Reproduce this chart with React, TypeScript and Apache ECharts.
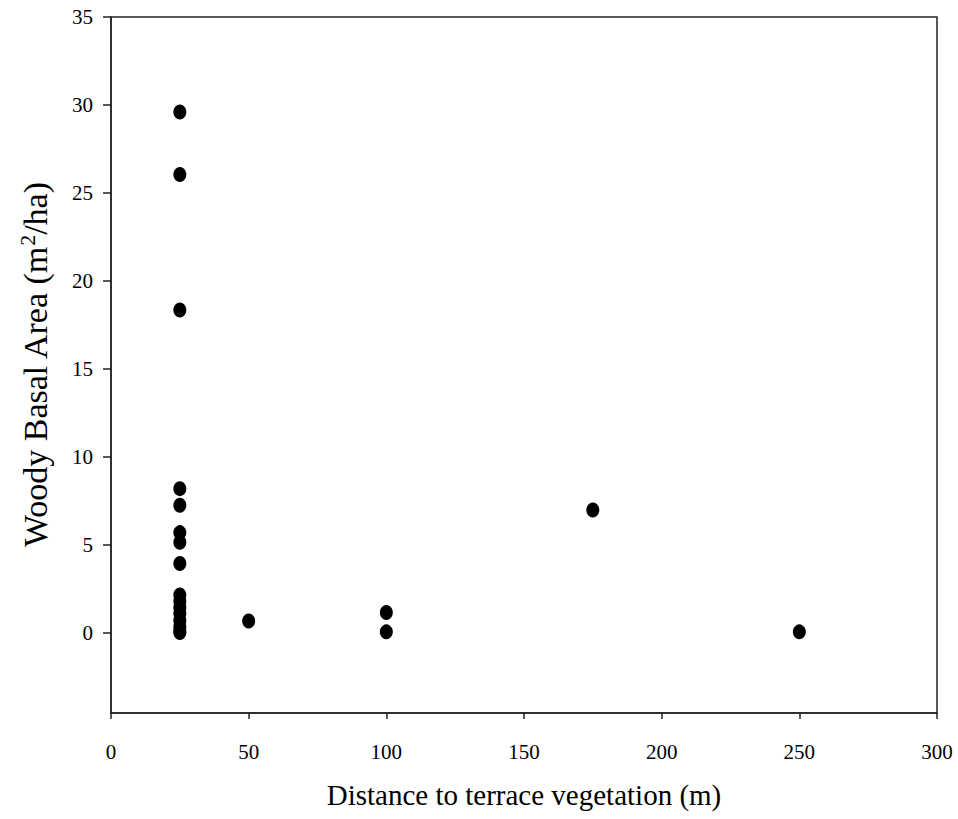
import React, { useEffect, useRef } from "react";
import * as echarts from "echarts";

const xValues = [25, 25, 25, 25, 25, 25, 25, 25, 25, 25, 25, 25, 25, 25, 25, 25, 50, 100, 100, 175, 250];
const yValues = [29.6, 26.05, 18.35, 8.2, 7.25, 5.7, 5.15, 3.95, 2.15, 1.8, 1.45, 1.1, 0.7, 0.35, 0.1, 0.02, 0.68, 1.16, 0.06, 6.98, 0.06];
const xTicks = [0, 50, 100, 150, 200, 250, 300];
const yTicks = [0, 5, 10, 15, 20, 25, 30, 35];

const font = "'Liberation Serif', 'Times New Roman', serif";

export default function App() {
  const ref = useRef<HTMLDivElement>(null);
  useEffect(() => {
    document.body.style.margin = "0";
    document.body.style.overflow = "hidden";
    if (!ref.current) return;
    const chart = echarts.init(ref.current, null, { renderer: "svg" });
    const data = xValues.map((x, i) => [x, yValues[i]]);
    chart.setOption({
      animation: false,
      backgroundColor: "#ffffff",
      grid: {
        left: 111,
        right: 21,
        top: 17,
        bottom: 106,
        show: true,
        borderColor: "#222",
        borderWidth: 1.5,
        containLabel: false,
      },
      xAxis: {
        type: "value",
        min: 0,
        max: 300,
        interval: 50,
        name: "Distance to terrace vegetation (m)",
        nameLocation: "middle",
        nameGap: 67,
        nameTextStyle: { fontFamily: font, fontSize: 29, color: "#000" },
        axisLine: { show: true, onZero: false, lineStyle: { color: "#222", width: 1.5 } },
        axisTick: { show: true, length: 6, lineStyle: { color: "#222", width: 1.5 } },
        axisLabel: {
          margin: 28,
          fontFamily: font,
          fontSize: 21,
          color: "#000",
          customValues: xTicks,
        },
        splitLine: { show: false },
      },
      yAxis: {
        type: "value",
        min: -4.55,
        max: 35,
        name: "Woody Basal Area (m{sup|2}/ha)",
        nameLocation: "middle",
        nameRotate: 90,
        nameGap: 57,
        nameTextStyle: {
          fontFamily: font,
          fontSize: 34,
          color: "#000",
          rich: {
            sup: { fontFamily: font, fontSize: 22, verticalAlign: "top", padding: [0, 0, 16, 0] },
          },
        },
        axisLine: { show: true, onZero: false, lineStyle: { color: "#222", width: 1.5 } },
        axisTick: { show: true, length: 8, customValues: yTicks, lineStyle: { color: "#222", width: 1.5 } },
        axisLabel: {
          margin: 18,
          fontFamily: font,
          fontSize: 21,
          color: "#000",
          customValues: yTicks,
        },
        splitLine: { show: false },
      },
      series: [
        {
          type: "scatter",
          data,
          symbol: "circle",
          symbolSize: [13, 15],
          itemStyle: { color: "#000", opacity: 1 },
        },
      ],
    });
    return () => chart.dispose();
  }, []);
  return <div ref={ref} style={{ width: 958, height: 819 }} />;
}
